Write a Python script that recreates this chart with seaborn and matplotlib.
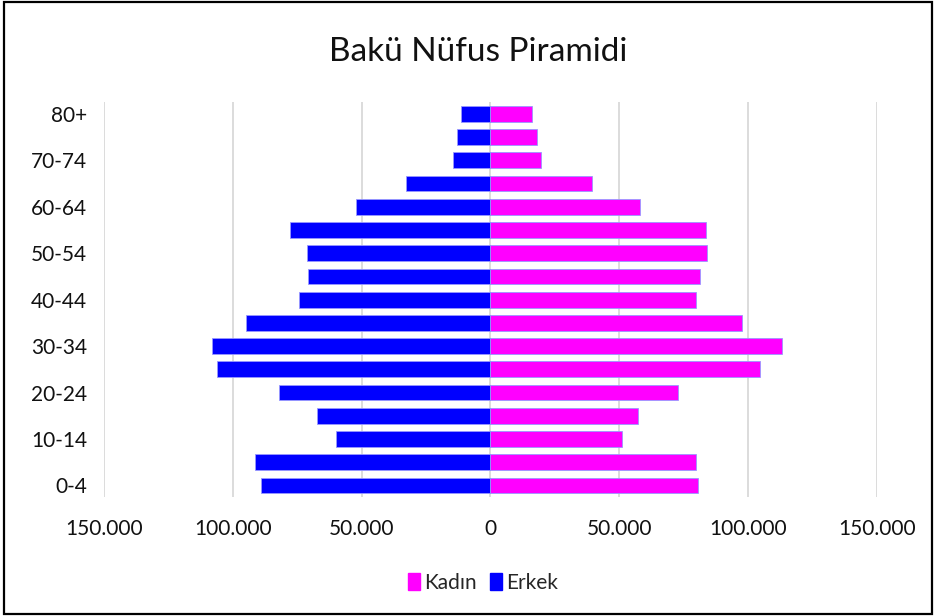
import matplotlib
matplotlib.use("Agg")
import matplotlib.pyplot as plt
import matplotlib.patches as mpatches
from matplotlib.ticker import FuncFormatter, FixedLocator
import seaborn as sns
import pandas as pd

# age groups, bottom to top
age_groups = ['0-4', '5-9', '10-14', '15-19', '20-24', '25-29', '30-34', '35-39',
              '40-44', '45-49', '50-54', '55-59', '60-64', '65-69', '70-74', '75-79', '80+']
erkek = [89000, 91500, 60100, 67300, 81900, 106100, 108000, 95000,
         74300, 70900, 71300, 77900, 52000, 32900, 14600, 12800, 11400]
kadin = [80500, 79800, 51200, 57100, 72900, 104400, 113000, 97500,
         79600, 81500, 83900, 83800, 58000, 39400, 19600, 18100, 16200]
x_ticks = [-150000, -100000, -50000, 0, 50000, 100000, 150000]

sns.set_theme(style="white")
plt.rcParams['font.family'] = ['Lato', 'DejaVu Sans']

df = pd.DataFrame({
    'Yas': age_groups * 2,
    'Nufus': kadin + [-v for v in erkek],
    'Cinsiyet': ['Kadın'] * len(age_groups) + ['Erkek'] * len(age_groups),
})
order = age_groups[::-1]  # 80+ on top

fig = plt.figure(figsize=(9.36, 6.16), dpi=100)
ax = fig.add_axes([0.111, 0.193, 0.826, 0.641])

sns.barplot(data=df, x='Nufus', y='Yas', hue='Cinsiyet', order=order,
            hue_order=['Kadın', 'Erkek'], dodge=False, orient='h', width=0.68,
            palette={'Kadın': '#ff00ff', 'Erkek': '#0000ff'}, saturation=1,
            edgecolor='#9999ff', linewidth=0.6, ax=ax, legend=False)

ax.set_xlim(-150000, 150000)
ax.set_ylim(len(order) - 0.5, -0.5)
ax.xaxis.set_major_locator(FixedLocator(x_ticks))
ax.xaxis.set_major_formatter(FuncFormatter(lambda v, p: f"{abs(int(v)):,}".replace(',', '.')))
ax.grid(axis='x', color='#d9d9d9', linewidth=1.3)
ax.set_axisbelow(True)
for s in ax.spines.values():
    s.set_visible(False)

# only every other age label, like the original
ax.set_yticks(range(len(order)))
ax.set_yticklabels([lab if i % 2 == 0 else '' for i, lab in enumerate(order)])
ax.tick_params(axis='y', length=0, pad=12, labelsize=15, labelcolor='#111111')
ax.tick_params(axis='x', length=0, pad=16, labelsize=15, labelcolor='#111111')
ax.set_xlabel('')
ax.set_ylabel('')

fig.suptitle('Bakü Nüfus Piramidi', x=0.511, y=0.94, fontsize=24, color='#111111')

handles = [mpatches.Patch(color='#ff00ff', label='Kadın'),
           mpatches.Patch(color='#0000ff', label='Erkek')]
fig.legend(handles=handles, loc='center', bbox_to_anchor=(0.516, 0.054), ncol=2,
           frameon=False, fontsize=15, handlelength=0.6, handleheight=0.9,
           handletextpad=0.2, columnspacing=0.6)

fig.add_artist(mpatches.Rectangle((0.004, 0.004), 0.992, 0.992, transform=fig.transFigure,
                                  fill=False, edgecolor='black', linewidth=1.6))

fig.savefig('out.png', dpi=100)
